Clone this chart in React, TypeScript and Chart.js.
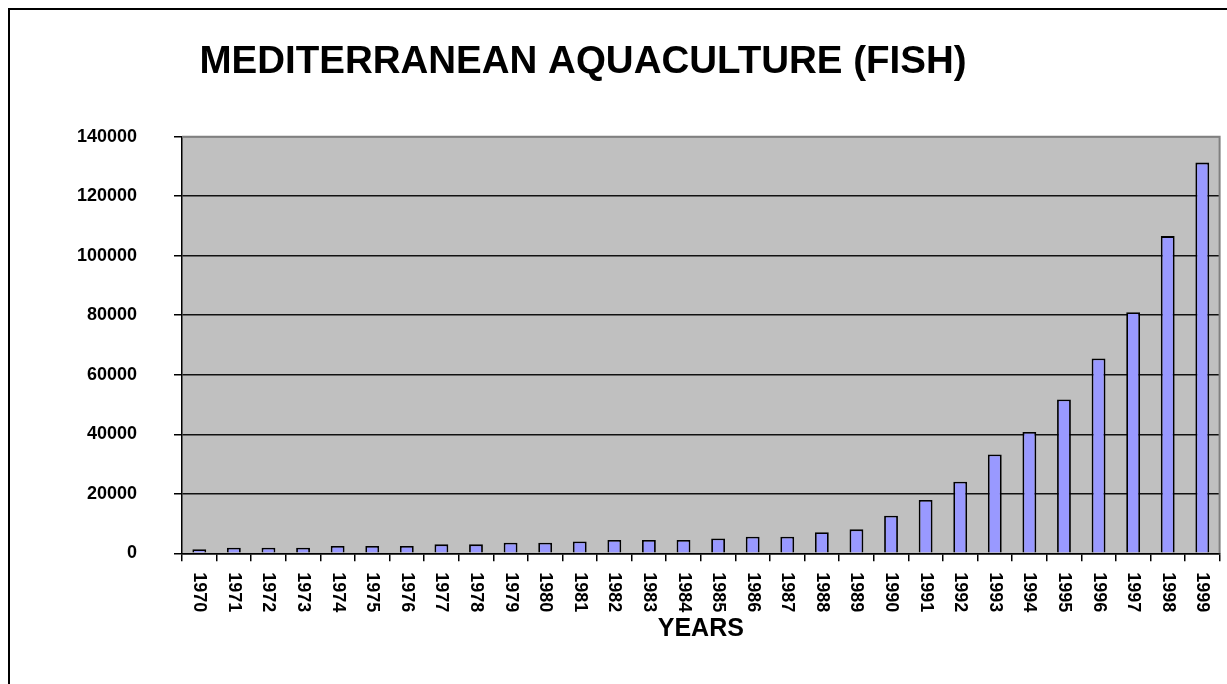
import React, { useEffect, useRef } from "react";
import { Chart, registerables } from "chart.js";

Chart.register(...registerables);

const years: string[] = [
  "1970", "1971", "1972", "1973", "1974", "1975", "1976", "1977", "1978", "1979",
  "1980", "1981", "1982", "1983", "1984", "1985", "1986", "1987", "1988", "1989",
  "1990", "1991", "1992", "1993", "1994", "1995", "1996", "1997", "1998", "1999",
];

const production: number[] = [
  1350, 1900, 1900, 1900, 2450, 2450, 2450, 3000, 3000, 3550,
  3550, 4000, 4450, 4450, 4450, 5000, 5550, 5550, 7050, 8050,
  12600, 17900, 24050, 33200, 40800, 51700, 65450, 81000, 106600, 131300,
];

const yMin = 0;
const yMax = 140000;
const yStep = 20000;

const chartTitle = "MEDITERRANEAN AQUACULTURE (FISH)";
const xTitle = "YEARS";

const FONT = "'Liberation Sans', Arial, Helvetica, sans-serif";

const CW = 1217;
const CH = 674;

export default function App() {
  const canvasRef = useRef<HTMLCanvasElement | null>(null);

  useEffect(() => {
    const canvas = canvasRef.current;
    if (!canvas) return;

    const plotBg = {
      id: "plotBg",
      beforeDraw(chart: any) {
        const { ctx, chartArea } = chart;
        ctx.save();
        ctx.fillStyle = "#C0C0C0";
        ctx.fillRect(chartArea.left, chartArea.top, chartArea.right - chartArea.left, chartArea.bottom - chartArea.top);
        ctx.restore();
      },
      afterDraw(chart: any) {
        const { ctx, chartArea } = chart;
        ctx.save();
        ctx.strokeStyle = "#808080";
        ctx.lineWidth = 2;
        ctx.beginPath();
        ctx.moveTo(chartArea.left, chartArea.top);
        ctx.lineTo(chartArea.right, chartArea.top);
        ctx.lineTo(chartArea.right, chartArea.bottom);
        ctx.stroke();
        ctx.restore();
      },
    };

    const customText = {
      id: "customText",
      afterDraw(chart: any) {
        const { ctx, chartArea } = chart;
        const xs = chart.scales.x;
        ctx.save();
        ctx.fillStyle = "#000";
        ctx.font = `bold 38.5px ${FONT}`;
        ctx.textAlign = "center";
        ctx.textBaseline = "alphabetic";
        ctx.fillText(chartTitle, 573, 63);
        ctx.font = `bold 18px ${FONT}`;
        ctx.textAlign = "left";
        ctx.textBaseline = "middle";
        years.forEach((lab, i) => {
          const x = xs.getPixelForValue(i);
          ctx.save();
          ctx.translate(x, chartArea.bottom + 19);
          ctx.rotate(Math.PI / 2);
          ctx.fillText(lab, 0, 0);
          ctx.restore();
        });
        ctx.restore();
      },
    };

    const chart = new Chart(canvas, {
      type: "bar",
      data: {
        labels: years,
        datasets: [
          {
            data: production,
            backgroundColor: "#9999FF",
            borderColor: "#000000",
            borderWidth: 1.8,
            barPercentage: 0.4,
            categoryPercentage: 1,
          },
        ],
      },
      options: {
        responsive: false,
        animation: false,
        layout: { padding: { top: 126.7, left: 0, right: 5.3, bottom: 0 } },
        plugins: {
          legend: { display: false },
          title: { display: false },
          tooltip: { enabled: false },
        },
        scales: {
          x: {
            offset: true,
            grid: {
              display: true,
              drawOnChartArea: false,
              drawTicks: true,
              tickLength: 8,
              offset: true,
              color: "#000",
              tickColor: "#000",
              lineWidth: 1.5,
            },
            border: { display: true, color: "#000", width: 1.5 },
            ticks: {
              color: "rgba(0,0,0,0)",
              font: { family: FONT, size: 18, weight: "bold" },
              minRotation: 90,
              maxRotation: 90,
              autoSkip: false,
            },
            title: {
              display: true,
              text: xTitle,
              color: "#000",
              font: { family: FONT, size: 25, weight: "bold" },
              padding: { top: 0, bottom: 40 },
            },
            afterFit(scale: any) {
              scale.height = CH - 543.3;
            },
          },
          y: {
            min: yMin,
            max: yMax,
            grid: {
              color: (c: any) => (c.tick && c.tick.value === yMax ? "#808080" : "#111"),
              tickColor: "#000",
              lineWidth: 1.5,
              drawTicks: true,
              tickLength: 8,
            },
            border: { display: true, color: "#000", width: 1.5 },
            ticks: {
              stepSize: yStep,
              padding: 37,
              color: "#000",
              font: { family: FONT, size: 18, weight: "bold" },
              callback: (v: any) => String(v),
            },
            afterFit(scale: any) {
              scale.width = 172;
            },
          },
        },
      },
      plugins: [plotBg, customText],
    });

    return () => {
      chart.destroy();
    };
  }, []);

  return (
    <div
      style={{
        position: "fixed",
        left: 0,
        top: 0,
        width: 1227,
        height: 684,
        overflow: "hidden",
        background: "#fff",
      }}
    >
      <div
        style={{
          position: "absolute",
          left: 8,
          top: 8,
          width: CW,
          height: CH,
          borderLeft: "2px solid #000",
          borderTop: "2px solid #000",
        }}
      >
        <canvas ref={canvasRef} width={CW} height={CH} style={{ display: "block" }} />
      </div>
    </div>
  );
}
